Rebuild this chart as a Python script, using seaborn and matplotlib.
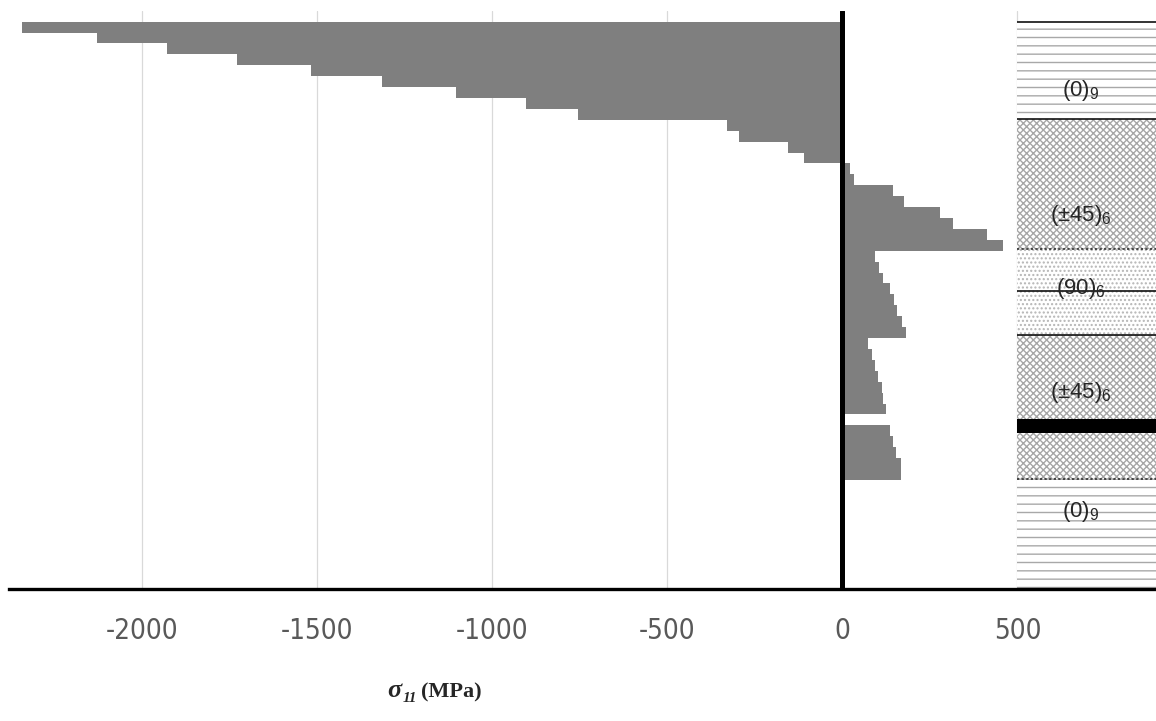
import numpy as np
import pandas as pd
import matplotlib
matplotlib.use('Agg')
import matplotlib.pyplot as plt
import seaborn as sns
from matplotlib.patches import Rectangle
from matplotlib import font_manager as fm

# ---------------- data (one value per ply row, top to bottom) ----------------
top_blank = [0]
stress_0_top = [-2345, -2131, -1931, -1731, -1519, -1316, -1104, -904, -756]
stress_45_top = [-330, -296, -156, -110, 23, 33, 144, 176, 279, 316, 413, 459]
stress_90 = [93, 105, 117, 136, 147, 157, 169, 181]
stress_45_bot = [74, 84, 93, 102, 112, 116, 124, 0, 136, 144, 153, 167, 167]
stress_0_bot = [0, 0, 0, 0, 0, 0, 0, 0, 0, 0]
x_ticks = [-2000, -1500, -1000, -500, 0, 500]
tick_labels = ['-2000', '-1500', '-1000', '-500', '0', '500']

layer_names = ['(0)', '(±45)', '(90)', '(±45)', '(0)']
layer_subs = ['9', '6', '6', '6', '9']

stress = top_blank + stress_0_top + stress_45_top + stress_90 + stress_45_bot + stress_0_bot
df = pd.DataFrame({'ply': list(range(len(stress))), 'stress': stress})

# ---------------- layout ----------------
W, H = 1156, 721
sns.set_theme(style='white')
plt.rcParams['font.family'] = ['Liberation Sans', 'DejaVu Sans']
plt.rcParams['mathtext.fontset'] = 'custom'
plt.rcParams['mathtext.rm'] = 'Liberation Sans'
plt.rcParams['mathtext.it'] = 'Liberation Sans'

fig = plt.figure(figsize=(W / 100, H / 100), dpi=100)
ax = fig.add_axes([9 / W, 1 - 589 / H, 1 - 9 / W, (589 - 10.7) / H])

xmin, xmax = -2381, 896
ax.set_xlim(xmin, xmax)

# grid
for t in x_ticks:
    if t != 0:
        ax.axvline(t, color='#d9d9d9', lw=0.9, zorder=0)

sns.barplot(data=df, x='stress', y='ply', orient='y', color='#7f7f7f',
            saturation=1, width=1.0, linewidth=0, ax=ax, zorder=2)

n = len(stress)
ax.set_ylim(n - 0.5, -0.5)

# ---------------- laminate schematic ----------------
bounds = [0.55, 9.4, 21.3, 29.2, 42.4, n - 0.5]
hatches = ['--', 'xxxxx', '....', 'xxxxx', '--']
hcolors = ['#a8a8a8', '#a6a6a6', '#b5b5b5', '#a6a6a6', '#a8a8a8']
for i in range(5):
    r = Rectangle((500, bounds[i]), 2000, bounds[i + 1] - bounds[i],
                  facecolor='white', edgecolor=hcolors[i], hatch=hatches[i],
                  lw=0, zorder=1)
    ax.add_patch(r)
# black band (gap)
ax.add_patch(Rectangle((500, 36.9), 2000, 1.3, facecolor='black', lw=0, zorder=3))
# interface lines
ax.hlines([0.55, 9.4, 25.2, 29.2], 500, 2000, colors='#111111', lw=1.2, zorder=3)
ax.hlines([21.3, 42.4], 500, 2000, colors='#222222', lw=1.1, linestyles=(0, (1.5, 1.5)), zorder=3)

label_y = [6.8, 18.3, 25.0, 34.5, 45.4]
for name, sub, yy in zip(layer_names, layer_subs, label_y):
    ax.text(681, yy, name + r'$_{' + sub + '}$', ha='center', va='center',
            fontsize=16, color='#262626', zorder=4)

# axes lines
ax.axvline(0, color='black', lw=3.6, zorder=4)
for s in ['top', 'right', 'left']:
    ax.spines[s].set_visible(False)
ax.spines['bottom'].set_color('black')
ax.spines['bottom'].set_linewidth(2.4)
ax.spines['bottom'].set_zorder(5)

ax.set_yticks([])
ax.set_ylabel('')
ax.set_xlabel('')
ax.set_xticks(x_ticks)
tick_fp = fm.FontProperties(family='DejaVu Sans', stretch='condensed', size=20)
ax.set_xticklabels(tick_labels, fontproperties=tick_fp, color='#595959')
ax.tick_params(axis='x', length=0, pad=20)

# x-axis title
fig.text(387 / W, 1 - 697 / H, 'σ', fontfamily=['Liberation Serif', 'DejaVu Serif'],
         fontstyle='italic', fontweight='bold', fontsize=19, ha='left', va='baseline')
fig.text(403 / W, 1 - 702 / H, '11', fontfamily=['Liberation Serif', 'DejaVu Serif'],
         fontstyle='italic', fontweight='bold', fontsize=11, ha='left', va='baseline')
fig.text(421 / W, 1 - 697 / H, '(MPa)', fontfamily=['Liberation Serif', 'DejaVu Serif'],
         fontweight='bold', fontsize=16, ha='left', va='baseline')

fig.savefig('out.png', dpi=100)
